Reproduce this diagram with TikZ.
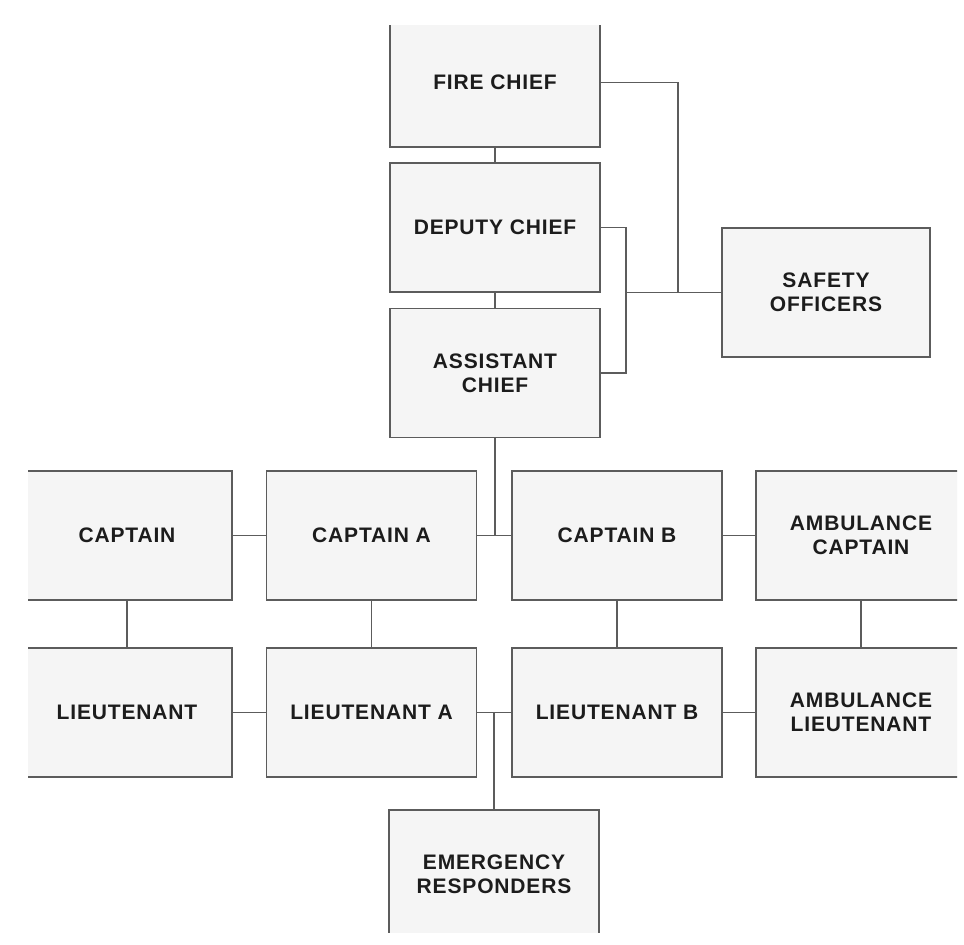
\documentclass[tikz,border=0pt]{standalone}
\usepackage{fontspec}
\setmainfont{Liberation Sans}
\newfontfamily\chartfont[LetterSpace=4]{Liberation Sans}
\definecolor{rule}{HTML}{5C5C5C}
\definecolor{boxfill}{HTML}{F5F5F5}
\definecolor{ink}{HTML}{1C1C1C}

\begin{document}
\begin{tikzpicture}[x=1pt,y=-1pt,
    post/.style={rectangle,draw=rule,line width=1.1pt,fill=boxfill,
      minimum width=210pt,minimum height=129pt,inner sep=0pt,align=center,
      text=ink,font=\chartfont\bfseries\fontsize{21}{24}\selectfont},
    wire/.style={draw=rule,line width=1.1pt}]
      \useasboundingbox[fill=white] (0,0) rectangle (964,945);
      \clip (28,25) rectangle (957,932);

      \node[post] (fc) at (495,82.5) {FIRE CHIEF};
      \node[post] (dc) at (495,227.5) {DEPUTY CHIEF};
      \node[post] (ac) at (495,373) {ASSISTANT\\CHIEF};
      \node[post,minimum width=208pt] (so) at (826,292.5) {SAFETY\\OFFICERS};

      \node[post] (cap) at (127,535.5) {CAPTAIN};
      \node[post] (capa) at (371.5,535.5) {CAPTAIN A};
      \node[post] (capb) at (617,535.5) {CAPTAIN B};
      \node[post] (ambc) at (861,535.5) {AMBULANCE\\CAPTAIN};

      \node[post] (lt) at (127,712.5) {LIEUTENANT};
      \node[post] (lta) at (371.5,712.5) {LIEUTENANT A};
      \node[post] (ltb) at (617,712.5) {LIEUTENANT B};
      \node[post] (amblt) at (861,712.5) {AMBULANCE\\LIEUTENANT};

      \node[post] (er) at (494,874.5) {EMERGENCY\\RESPONDERS};

      \coordinate (jr) at (678,292.5);
      \coordinate (jl) at (626,292.5);

      \draw[wire] (fc.south) -- (dc.north);
      \draw[wire] (dc.south) -- (ac.north);
      \draw[wire] (fc.east) -| (jr) -- (so.west);
      \draw[wire] (dc.east) -| (jl) |- (ac.east);
      \draw[wire] (jl) -- (jr);

      \draw[wire] (ac.south) -- (ac.south |- capa.east);
      \draw[wire] (cap.east) -- (capa.west);
      \draw[wire] (capa.east) -- (capb.west);
      \draw[wire] (capb.east) -- (ambc.west);

      \draw[wire] (cap.south) -- (lt.north);
      \draw[wire] (capa.south) -- (lta.north);
      \draw[wire] (capb.south) -- (ltb.north);
      \draw[wire] (ambc.south) -- (amblt.north);

      \draw[wire] (lt.east) -- (lta.west);
      \draw[wire] (lta.east) -- (ltb.west);
      \draw[wire] (ltb.east) -- (amblt.west);
      \draw[wire] (er.north) -- (er.north |- lta.east);
\end{tikzpicture}
\end{document}
